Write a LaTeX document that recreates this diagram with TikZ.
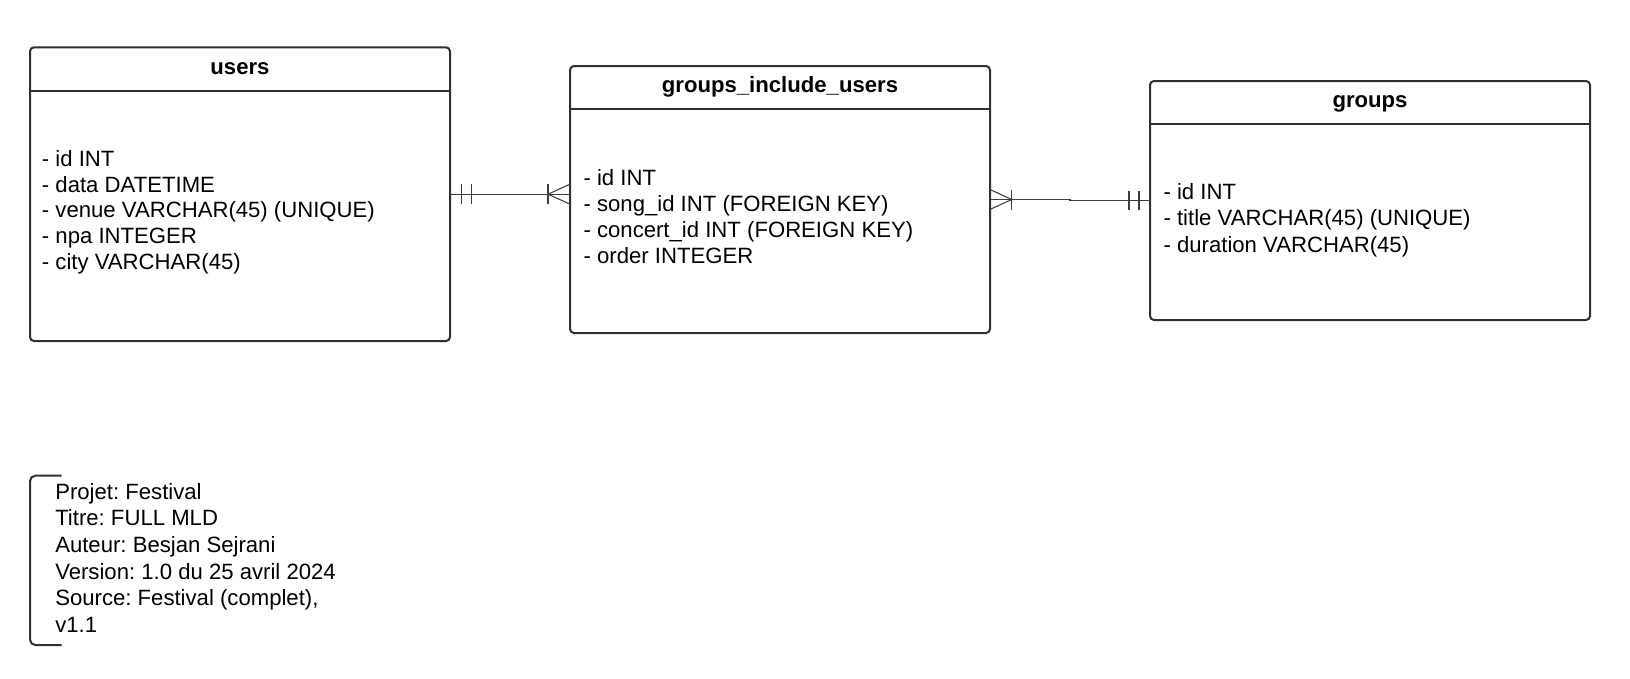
\documentclass[tikz,border=0pt]{standalone}
\usepackage{fontspec}
\setmainfont{Liberation Sans}
\usetikzlibrary{calc}
\frenchspacing
\definecolor{edge}{HTML}{2E3033}
\definecolor{lnk}{HTML}{3A3D42}
\tikzset{
  tbl/.style={draw=edge, line width=1.5pt, rounded corners=3pt, anchor=north west, inner sep=0pt, outer sep=0pt, fill=white},
  sepline/.style={draw=edge, line width=1.5pt},
  ttl/.style={font=\fontsize{16.6}{20}\selectfont\bfseries, anchor=base, inner sep=0pt},
  attr/.style={font=\fontsize{16.6}{20}\selectfont\frenchspacing, anchor=base west, inner sep=0pt},
  conn/.style={draw=lnk, line width=0.8pt},
  bracketline/.style={draw=edge, line width=1.5pt, rounded corners=4pt},
}
\begin{document}
\begin{tikzpicture}[x=0.75pt,y=-0.75pt]
\useasboundingbox (0,0) rectangle (1630,678);

% tables
\node[tbl, minimum width=315pt, minimum height=220.3pt] (users) at (30,47.3) {};
\node[tbl, minimum width=315pt, minimum height=200.25pt] (gi) at (570,66) {};
\node[tbl, minimum width=330pt, minimum height=179.25pt] (groups) at (1150,81) {};

% header separators
\coordinate (uh) at (0,91);
\coordinate (gih) at (0,109);
\coordinate (gh) at (0,124.3);
\draw[sepline] (users.west |- uh) -- (users.east |- uh);
\draw[sepline] (gi.west |- gih) -- (gi.east |- gih);
\draw[sepline] (groups.west |- gh) -- (groups.east |- gh);

% titles
\node[ttl] (usersT) at (240,74) {users};
\node[ttl] (giT) at (780,92.3) {groups\_include\_users};
\node[ttl] (groupsT) at (1370,107) {groups};

% attributes
\foreach \t [count=\i] in {- id INT, - data DATETIME, - venue VARCHAR(45) (UNIQUE), - npa INTEGER, - city VARCHAR(45)}
  \node[attr] (ua\i) at (41.7,{166.7+25.6*(\i-1)}) {\t};
\foreach \t [count=\i] in {- id INT, - song\_id INT (FOREIGN KEY), - concert\_id INT (FOREIGN KEY), - order INTEGER}
  \node[attr] (gia\i) at (583.3,{185+26.33*(\i-1)}) {\t};
\foreach \t [count=\i] in {- id INT, - title VARCHAR(45) (UNIQUE), - duration VARCHAR(45)}
  \node[attr] (ga\i) at (1163.3,{199+26.65*(\i-1)}) {\t};

% connector users -- groups_include_users
\coordinate (c1a) at (users.east);
\coordinate (c1b) at (users.east -| gi.west);
\draw[conn] (c1a) -- (c1b);
\draw[conn] ($(c1a)+(11.7,-9.7)$) -- ++(0,19.4);
\draw[conn] ($(c1a)+(21.7,-9.7)$) -- ++(0,19.4);
\draw[conn] ($(c1b)+(0,-10)$) -- ($(c1b)+(-22,0)$) -- ($(c1b)+(0,10)$);
\draw[conn] ($(c1b)+(-22,-10)$) -- ++(0,20);

% connector groups_include_users -- groups
\coordinate (c2a) at (gi.east);
\coordinate (c2b) at (groups.west);
\draw[conn] (c2a) -- ++(80,0) |- (c2b);
\draw[conn] ($(c2a)+(0,-10)$) -- ($(c2a)+(21.7,0)$) -- ($(c2a)+(0,10)$);
\draw[conn] ($(c2a)+(21.7,-10)$) -- ++(0,20);
\draw[conn] ($(c2b)+(-11,-9.7)$) -- ++(0,19.4);
\draw[conn] ($(c2b)+(-21,-9.7)$) -- ++(0,19.4);

% legend bracket and text
\coordinate (bt) at (61.7,475.7);
\coordinate (bb) at (61.7,645);
\draw[bracketline] (bt) -- (30,475.7) -- (30,645) -- (bb);
\foreach \t [count=\i] in {Projet: Festival, Titre: FULL MLD, Auteur: Besjan Sejrani, Version: 1.0 du 25 avril 2024, {Source: Festival (complet),}, v1.1}
  \node[attr] (leg\i) at (55,{499+26.67*(\i-1)}) {\t};
\end{tikzpicture}
\end{document}
